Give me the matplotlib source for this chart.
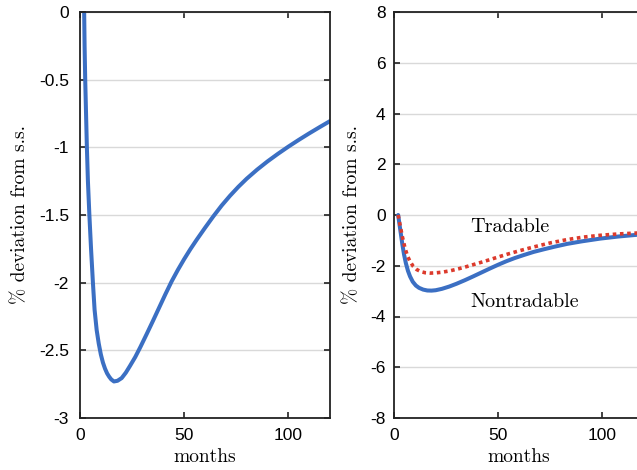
import matplotlib
matplotlib.use("Agg")
import matplotlib.pyplot as plt

# left panel: single response
months_left = [2.0, 2.2, 2.5, 2.9, 3.3, 3.8, 4.5, 5.3, 6.2, 7.0, 8.0, 9.0, 10.0, 11.0,
               12.0, 13.0, 14.0, 15.0, 16.3, 18.0, 20.0, 22.0, 24.0, 26.5, 29.0, 32.0,
               35.0, 38.0, 41.0, 44.0, 47.0, 50.0, 53.0, 56.0, 60.0, 64.0, 68.0, 72.0,
               76.0, 80.0, 85.0, 90.0, 95.0, 100.0, 105.0, 110.0, 115.0, 120.0]
dev_left = [0.0, -0.25, -0.5, -0.75, -1.0, -1.25, -1.5, -1.75, -2.0, -2.2, -2.35, -2.45,
            -2.53, -2.59, -2.635, -2.67, -2.695, -2.715, -2.73, -2.725, -2.705, -2.665,
            -2.615, -2.55, -2.475, -2.38, -2.283, -2.184, -2.085, -1.99, -1.905, -1.826,
            -1.752, -1.683, -1.595, -1.51, -1.43, -1.358, -1.292, -1.232, -1.165, -1.104,
            -1.048, -0.995, -0.945, -0.897, -0.851, -0.806]

# right panel: nontradable (solid) and tradable (dotted)
months_nt = [2.0, 2.6, 3.3, 4.0, 4.8, 5.7, 6.7, 7.7, 9.0, 10.5, 12.0, 14.0, 16.0, 18.0,
             20.0, 23.0, 26.5, 30.0, 34.0, 38.0, 42.0, 46.0, 50.0, 54.0, 58.0, 62.0,
             67.0, 72.0, 77.0, 83.0, 90.0, 99.0, 108.0, 116.7, 120.0]
dev_nt = [0.0, -0.35, -0.75, -1.15, -1.55, -1.9, -2.2, -2.42, -2.63, -2.78, -2.87, -2.94,
          -2.975, -2.98, -2.965, -2.91, -2.82, -2.71, -2.57, -2.42, -2.265, -2.11, -1.96,
          -1.82, -1.695, -1.585, -1.455, -1.35, -1.25, -1.14, -1.04, -0.93, -0.845,
          -0.78, -0.76]
months_tr = [2.0, 2.9, 4.0, 5.3, 6.5, 7.7, 9.2, 10.9, 13.0, 15.0, 17.3, 20.0, 23.0,
             26.9, 31.0, 35.0, 38.1, 42.0, 46.0, 50.0, 55.0, 60.6, 67.0, 75.0, 83.0,
             91.0, 99.0, 108.0, 116.7, 120.0]
dev_tr = [0.0, -0.39, -0.85, -1.31, -1.62, -1.83, -2.02, -2.15, -2.235, -2.275, -2.29,
          -2.28, -2.255, -2.2, -2.12, -2.03, -1.955, -1.86, -1.76, -1.655, -1.53, -1.4,
          -1.26, -1.1, -0.97, -0.87, -0.8, -0.745, -0.71, -0.70]

xticks = [0, 50, 100]
yticks_left = [0, -0.5, -1, -1.5, -2, -2.5, -3]
yticklabels_left = ["0", "-0.5", "-1", "-1.5", "-2", "-2.5", "-3"]
yticks_right = [8, 6, 4, 2, 0, -2, -4, -6, -8]

BLUE = "#3b6fc3"
RED = "#dc3a2c"

plt.rcParams["axes.unicode_minus"] = False
tick_font = {"family": "Liberation Sans", "size": 12.5}
serif = "cmr10"

fig = plt.figure(figsize=(6.37, 4.70), dpi=100)
ax1 = fig.add_axes([80 / 637, 52 / 470, 250 / 637, 406 / 470])
ax2 = fig.add_axes([394 / 637, 52 / 470, 250 / 637, 406 / 470])


def style(ax, yticks, ylabels, ylabel_x, ypad):
    ax.set_xlim(0, 120)
    ax.set_xticks(xticks)
    ax.set_xticklabels([str(t) for t in xticks], fontdict=tick_font)
    ax.set_yticks(yticks)
    ax.set_yticklabels(ylabels, fontdict=tick_font)
    ax.tick_params(direction="in", top=True, right=True, length=4, width=1.2,
                   color="#222222")
    ax.tick_params(axis="x", pad=7)
    ax.tick_params(axis="y", pad=ypad)
    ax.grid(axis="y", color="#d9d9d9", linewidth=1.0)
    ax.set_axisbelow(True)
    for s in ax.spines.values():
        s.set_linewidth(1.3)
        s.set_color("#222222")
    ax.set_xlabel("months", family=serif, fontsize=14, va="center")
    ax.xaxis.set_label_coords(0.5, -0.096)
    ax.set_ylabel("% deviation from s.s.", family=serif, fontsize=14, va="center")
    ax.yaxis.set_label_coords(ylabel_x, 0.5)


ax1.plot(months_left, dev_left, color=BLUE, linewidth=2.9, solid_capstyle="round",
         solid_joinstyle="round")
ax1.set_ylim(-3, 0)
style(ax1, yticks_left, yticklabels_left, -0.24, 8)

ax2.plot(months_nt, dev_nt, color=BLUE, linewidth=2.9, solid_capstyle="round",
         solid_joinstyle="round")
ax2.plot(months_tr, dev_tr, color=RED, linewidth=2.6, linestyle=(0, (1, 1)))
ax2.set_ylim(-8, 8)
style(ax2, yticks_right, [str(t) for t in yticks_right], -0.168, 6)

ax2.text(36.5, -0.47, "Tradable", family=serif, fontsize=14.5, va="center", ha="left")
ax2.text(36.5, -3.43, "Nontradable", family=serif, fontsize=14.5, va="center", ha="left")

fig.savefig("out.png", dpi=100)
